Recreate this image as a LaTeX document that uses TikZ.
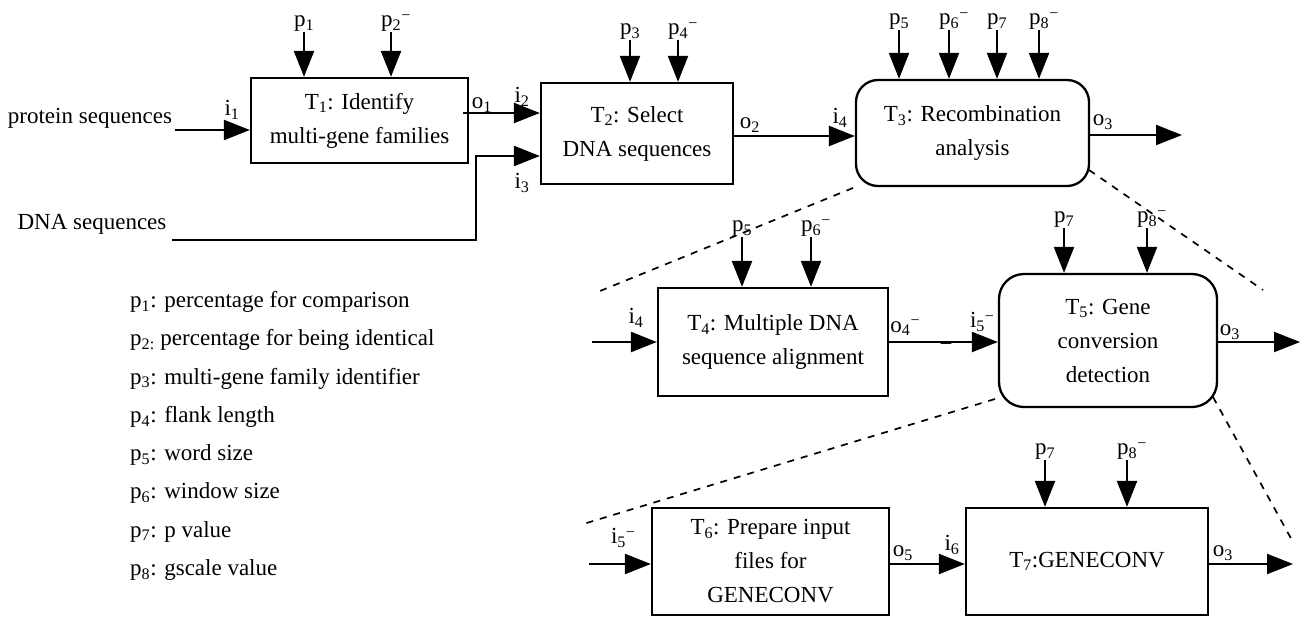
\documentclass[tikz,border=0pt]{standalone}
\usepackage{fontspec}
\setmainfont{Liberation Serif}
\usetikzlibrary{arrows.meta}
\newcommand\mn{\raisebox{0.28em}{\fontsize{16}{16}\selectfont −}}
\newcommand\prm[5]{%
  \coordinate (#1) at (#2,#3);
  \node[anchor=south west] (#1l) at ([xshift=-10pt]#1) {#5};
  \draw[flow] (#1) -- (#1 |- #4.north);
}
\begin{document}
\begin{tikzpicture}[x=1pt,y=-1pt,
  every node/.style={font=\fontsize{23}{34}\selectfont, inner sep=0pt},
  box/.style={draw, line width=2.3pt, align=center},
  rbox/.style={box, rounded corners=22pt},
  flow/.style={line width=2.3pt, -{Triangle[length=26pt,width=20pt]}},
  zl/.style={line width=1.7pt, dash pattern=on 7pt off 7pt}]
\useasboundingbox (0,0) rectangle (1315,618);

% boxes
\node[box, minimum width=217pt, minimum height=85pt] (T1) at (359.5,120.5) {T\textsubscript{1}: Identify\\multi-gene families};
\node[box, minimum width=192pt, minimum height=101pt] (T2) at (637,133.5) {T\textsubscript{2}: Select\\DNA sequences};
\node[rbox, minimum width=233pt, minimum height=106pt] (T3) at (972.5,133) {T\textsubscript{3}: Recombination\\analysis};
\node[box, minimum width=230pt, minimum height=108pt] (T4) at (773,342) {T\textsubscript{4}: Multiple DNA\\sequence alignment};
\node[rbox, rounded corners=25pt, minimum width=218pt, minimum height=133pt] (T5) at (1108,340.5) {T\textsubscript{5}: Gene\\conversion\\detection};
\node[box, minimum width=237pt, minimum height=107pt] (T6) at (770.5,561.5) {T\textsubscript{6}: Prepare input\\files for\\GENECONV};
\node[box, minimum width=242pt, minimum height=107pt] (T7) at (1087,561.5) {T\textsubscript{7}:GENECONV};

% parameters
\prm{a1}{304}{32}{T1}{p\textsubscript{1}}
\prm{a2}{391}{32}{T1}{p\textsubscript{2}\mn}
\prm{a3}{630}{40}{T2}{p\textsubscript{3}}
\prm{a4}{678}{40}{T2}{p\textsubscript{4}\mn}
\prm{a5}{899}{30}{T3}{p\textsubscript{5}}
\prm{a6}{949}{30}{T3}{p\textsubscript{6}\mn}
\prm{a7}{997}{30}{T3}{p\textsubscript{7}}
\prm{a8}{1039}{30}{T3}{p\textsubscript{8}\mn}
\prm{b5}{742}{237}{T4}{p\textsubscript{5}}
\prm{b6}{811}{237}{T4}{p\textsubscript{6}\mn}
\prm{b7}{1064}{228}{T5}{p\textsubscript{7}}
\prm{b8}{1147}{228}{T5}{p\textsubscript{8}\mn}
\prm{c7}{1045}{460}{T7}{p\textsubscript{7}}
\prm{c8}{1127}{460}{T7}{p\textsubscript{8}\mn}

% row 1 flows
\node (prot) at (90,118) {protein sequences};
\coordinate (pin) at (175,130);
\draw[flow] (pin) -- (pin -| T1.west);
\node (li1) at (232,110) {i\textsubscript{1}};

\coordinate (o1s) at (463,113);
\draw[flow] (o1s) -- (o1s -| T2.west);
\node (lo1) at (482,105) {o\textsubscript{1}};
\node (li2) at (522,97) {i\textsubscript{2}};

\node (dna) at (92,224) {DNA sequences};
\coordinate (dnas) at (172,240);
\coordinate (dnak) at (476,240);
\coordinate (i3c) at (476,156);
\draw[flow] (dnas) -- (dnak) -- (i3c) -- (i3c -| T2.west);
\node (li3) at (522,183) {i\textsubscript{3}};

\coordinate (o2y) at (800,136);
\draw[flow] (o2y -| T2.east) -- (o2y -| T3.west);
\node (lo2) at (750,125) {o\textsubscript{2}};
\node (li4) at (840,118) {i\textsubscript{4}};

\coordinate (o3a) at (1182,135);
\draw[flow] (o3a -| T3.east) -- (o3a);
\node (lo3a) at (1103,122) {o\textsubscript{3}};

% row 2 flows
\coordinate (r2in) at (592,342);
\draw[flow] (r2in) -- (r2in -| T4.west);
\node (li4b) at (636,318) {i\textsubscript{4}};
\draw[flow] (T4.east) -- (T4.east -| T5.west);
\node (lo4) at (905,328) {o\textsubscript{4}\mn};
\node (dash) at (946,347) {−};
\node (li5) at (982,322) {i\textsubscript{5}\mn};
\coordinate (o3b) at (1300,342);
\draw[flow] (o3b -| T5.east) -- (o3b);
\node (lo3b) at (1230,332) {o\textsubscript{3}};

% row 3 flows
\coordinate (r3in) at (589,564);
\draw[flow] (r3in) -- (r3in -| T6.west);
\node (li5b) at (623,538) {i\textsubscript{5}\mn};
\coordinate (o5y) at (900,564);
\draw[flow] (o5y -| T6.east) -- (o5y -| T7.west);
\node (lo5) at (903,553) {o\textsubscript{5}};
\node (li6) at (952,545) {i\textsubscript{6}};
\coordinate (o3c) at (1293,564);
\draw[flow] (o3c -| T7.east) -- (o3c);
\node (lo3c) at (1223,553) {o\textsubscript{3}};

% zoom lines
\coordinate (z1a) at (853,188); \coordinate (z1b) at (600,291);
\coordinate (z2a) at (1089,170); \coordinate (z2b) at (1263,290);
\coordinate (z3a) at (995,399); \coordinate (z3b) at (580,525);
\coordinate (z4a) at (1213,397); \coordinate (z4b) at (1293,542);
\draw[zl] (z1a) -- (z1b);
\draw[zl] (z2a) -- (z2b);
\draw[zl] (z3a) -- (z3b);
\draw[zl] (z4a) -- (z4b);

% legend
\node[anchor=west] (g1) at (130,302) {p\textsubscript{1}: percentage for comparison};
\node[anchor=west] (g2) at (130,340) {p\textsubscript{2:} percentage for being identical};
\node[anchor=west] (g3) at (130,378.5) {p\textsubscript{3}: multi-gene family identifier};
\node[anchor=west] (g4) at (130,417) {p\textsubscript{4}: flank length};
\node[anchor=west] (g5) at (130,455) {p\textsubscript{5}: word size};
\node[anchor=west] (g6) at (130,493) {p\textsubscript{6}: window size};
\node[anchor=west] (g7) at (130,531.5) {p\textsubscript{7}: p value};
\node[anchor=west] (g8) at (130,570) {p\textsubscript{8}: gscale value};
\end{tikzpicture}
\end{document}
